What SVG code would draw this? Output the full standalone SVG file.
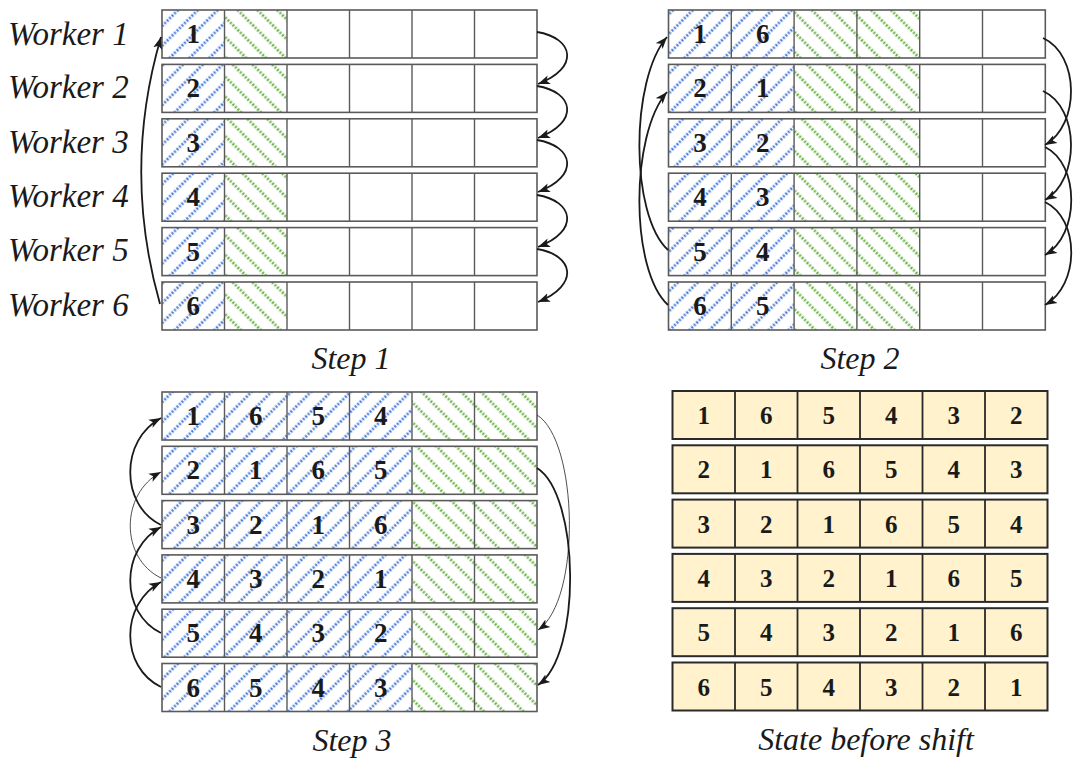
<svg xmlns="http://www.w3.org/2000/svg" width="1080" height="764" viewBox="0 0 1080 764">
<defs>
<pattern id="pb" patternUnits="userSpaceOnUse" width="14" height="14" patternTransform="rotate(45)">
<rect width="14" height="14" fill="#fff"/>
<line x1="7" y1="0" x2="7" y2="14" stroke="#4f7fd8" stroke-width="2.8" stroke-dasharray="2 1.5"/>
</pattern>
<pattern id="pg" patternUnits="userSpaceOnUse" width="14" height="14" patternTransform="rotate(-45)">
<rect width="14" height="14" fill="#fff"/>
<line x1="7" y1="0" x2="7" y2="14" stroke="#6cb34a" stroke-width="2.8" stroke-dasharray="2 1.5"/>
</pattern>
<marker id="ah" markerUnits="userSpaceOnUse" markerWidth="14" markerHeight="10" refX="12" refY="5" orient="auto">
<path d="M0,0.5 L12,5 L0,9.5 L3,5 z" fill="#1a1a1a"/>
</marker>
</defs>
<style>
.b{fill:url(#pb)}
.g{fill:url(#pg)}
.w{fill:#fff}
.y{fill:#fff2cc}
.dv{fill:none;stroke:#5a5a5a;stroke-width:1.4}
.o{fill:none;stroke:#5a5a5a;stroke-width:1.6}
.dv4{fill:none;stroke:#2a2a2a;stroke-width:1.8}
.o4{fill:none;stroke:#2a2a2a;stroke-width:2}
.n{font-family:"Liberation Serif","Times New Roman",serif;font-weight:bold;font-size:27px;fill:#1a1a1a;text-anchor:middle}
.n4{font-family:"Liberation Serif","Times New Roman",serif;font-weight:bold;font-size:25px;fill:#1a1a1a;text-anchor:middle}
.lb{font-family:"Liberation Serif","Times New Roman",serif;font-style:italic;font-size:33px;fill:#1a1a1a}
.cap{font-family:"Liberation Serif","Times New Roman",serif;font-style:italic;font-size:32px;fill:#1a1a1a;text-anchor:middle}
.c{fill:none;stroke:#1a1a1a;stroke-width:1.8;marker-end:url(#ah)}
.ct{fill:none;stroke:#3a3a3a;stroke-width:0.9;marker-end:url(#ah)}
</style>

<g id="labels">
<text class="lb" x="8" y="45">Worker 1</text>
<text class="lb" x="8" y="98">Worker 2</text>
<text class="lb" x="8" y="153">Worker 3</text>
<text class="lb" x="8" y="207">Worker 4</text>
<text class="lb" x="8" y="261">Worker 5</text>
<text class="lb" x="8" y="316">Worker 6</text>
<text class="cap" x="351" y="369">Step 1</text>
<text class="cap" x="860" y="369">Step 2</text>
<text class="cap" x="352" y="751">Step 3</text>
<text class="cap" x="866" y="750">State before shift</text>
</g>

<!-- Panel 1: Step 1 -->
<g id="s1-r1"><rect class="b" x="162" y="10" width="62.5" height="48"/><rect class="g" x="224.5" y="10" width="62.5" height="48"/><rect class="w" x="287" y="10" width="250" height="48"/><path class="dv" d="M224.5,10v48M287,10v48M349.5,10v48M412,10v48M474.5,10v48"/><rect class="o" x="162" y="10" width="375" height="48"/><text class="n" x="193.25" y="43">1</text></g>
<g id="s1-r2"><rect class="b" x="162" y="64.4" width="62.5" height="48"/><rect class="g" x="224.5" y="64.4" width="62.5" height="48"/><rect class="w" x="287" y="64.4" width="250" height="48"/><path class="dv" d="M224.5,64.4v48M287,64.4v48M349.5,64.4v48M412,64.4v48M474.5,64.4v48"/><rect class="o" x="162" y="64.4" width="375" height="48"/><text class="n" x="193.25" y="97.4">2</text></g>
<g id="s1-r3"><rect class="b" x="162" y="118.8" width="62.5" height="48"/><rect class="g" x="224.5" y="118.8" width="62.5" height="48"/><rect class="w" x="287" y="118.8" width="250" height="48"/><path class="dv" d="M224.5,118.8v48M287,118.8v48M349.5,118.8v48M412,118.8v48M474.5,118.8v48"/><rect class="o" x="162" y="118.8" width="375" height="48"/><text class="n" x="193.25" y="151.8">3</text></g>
<g id="s1-r4"><rect class="b" x="162" y="173.2" width="62.5" height="48"/><rect class="g" x="224.5" y="173.2" width="62.5" height="48"/><rect class="w" x="287" y="173.2" width="250" height="48"/><path class="dv" d="M224.5,173.2v48M287,173.2v48M349.5,173.2v48M412,173.2v48M474.5,173.2v48"/><rect class="o" x="162" y="173.2" width="375" height="48"/><text class="n" x="193.25" y="206.2">4</text></g>
<g id="s1-r5"><rect class="b" x="162" y="227.6" width="62.5" height="48"/><rect class="g" x="224.5" y="227.6" width="62.5" height="48"/><rect class="w" x="287" y="227.6" width="250" height="48"/><path class="dv" d="M224.5,227.6v48M287,227.6v48M349.5,227.6v48M412,227.6v48M474.5,227.6v48"/><rect class="o" x="162" y="227.6" width="375" height="48"/><text class="n" x="193.25" y="260.6">5</text></g>
<g id="s1-r6"><rect class="b" x="162" y="282" width="62.5" height="48"/><rect class="g" x="224.5" y="282" width="62.5" height="48"/><rect class="w" x="287" y="282" width="250" height="48"/><path class="dv" d="M224.5,282v48M287,282v48M349.5,282v48M412,282v48M474.5,282v48"/><rect class="o" x="162" y="282" width="375" height="48"/><text class="n" x="193.25" y="315">6</text></g>

<!-- Panel 2: Step 2 -->
<g id="s2-r1"><rect class="b" x="668.5" y="10" width="125.6" height="48"/><rect class="g" x="794.1" y="10" width="125.6" height="48"/><rect class="w" x="919.7" y="10" width="125.6" height="48"/><path class="dv" d="M731.3,10v48M794.1,10v48M856.9,10v48M919.7,10v48M982.5,10v48"/><rect class="o" x="668.5" y="10" width="376.8" height="48"/><text class="n" x="699.9" y="43">1</text><text class="n" x="762.7" y="43">6</text></g>
<g id="s2-r2"><rect class="b" x="668.5" y="64.4" width="125.6" height="48"/><rect class="g" x="794.1" y="64.4" width="125.6" height="48"/><rect class="w" x="919.7" y="64.4" width="125.6" height="48"/><path class="dv" d="M731.3,64.4v48M794.1,64.4v48M856.9,64.4v48M919.7,64.4v48M982.5,64.4v48"/><rect class="o" x="668.5" y="64.4" width="376.8" height="48"/><text class="n" x="699.9" y="97.4">2</text><text class="n" x="762.7" y="97.4">1</text></g>
<g id="s2-r3"><rect class="b" x="668.5" y="118.8" width="125.6" height="48"/><rect class="g" x="794.1" y="118.8" width="125.6" height="48"/><rect class="w" x="919.7" y="118.8" width="125.6" height="48"/><path class="dv" d="M731.3,118.8v48M794.1,118.8v48M856.9,118.8v48M919.7,118.8v48M982.5,118.8v48"/><rect class="o" x="668.5" y="118.8" width="376.8" height="48"/><text class="n" x="699.9" y="151.8">3</text><text class="n" x="762.7" y="151.8">2</text></g>
<g id="s2-r4"><rect class="b" x="668.5" y="173.2" width="125.6" height="48"/><rect class="g" x="794.1" y="173.2" width="125.6" height="48"/><rect class="w" x="919.7" y="173.2" width="125.6" height="48"/><path class="dv" d="M731.3,173.2v48M794.1,173.2v48M856.9,173.2v48M919.7,173.2v48M982.5,173.2v48"/><rect class="o" x="668.5" y="173.2" width="376.8" height="48"/><text class="n" x="699.9" y="206.2">4</text><text class="n" x="762.7" y="206.2">3</text></g>
<g id="s2-r5"><rect class="b" x="668.5" y="227.6" width="125.6" height="48"/><rect class="g" x="794.1" y="227.6" width="125.6" height="48"/><rect class="w" x="919.7" y="227.6" width="125.6" height="48"/><path class="dv" d="M731.3,227.6v48M794.1,227.6v48M856.9,227.6v48M919.7,227.6v48M982.5,227.6v48"/><rect class="o" x="668.5" y="227.6" width="376.8" height="48"/><text class="n" x="699.9" y="260.6">5</text><text class="n" x="762.7" y="260.6">4</text></g>
<g id="s2-r6"><rect class="b" x="668.5" y="282" width="125.6" height="48"/><rect class="g" x="794.1" y="282" width="125.6" height="48"/><rect class="w" x="919.7" y="282" width="125.6" height="48"/><path class="dv" d="M731.3,282v48M794.1,282v48M856.9,282v48M919.7,282v48M982.5,282v48"/><rect class="o" x="668.5" y="282" width="376.8" height="48"/><text class="n" x="699.9" y="315">6</text><text class="n" x="762.7" y="315">5</text></g>

<!-- Panel 3: Step 3 -->
<g id="s3-r1"><rect class="b" x="162" y="392" width="250" height="48"/><rect class="g" x="412" y="392" width="125" height="48"/><path class="dv" d="M224.5,392v48M287,392v48M349.5,392v48M412,392v48M474.5,392v48"/><rect class="o" x="162" y="392" width="375" height="48"/><text class="n" x="193.25" y="425">1</text><text class="n" x="255.75" y="425">6</text><text class="n" x="318.25" y="425">5</text><text class="n" x="380.75" y="425">4</text></g>
<g id="s3-r2"><rect class="b" x="162" y="446.3" width="250" height="48"/><rect class="g" x="412" y="446.3" width="125" height="48"/><path class="dv" d="M224.5,446.3v48M287,446.3v48M349.5,446.3v48M412,446.3v48M474.5,446.3v48"/><rect class="o" x="162" y="446.3" width="375" height="48"/><text class="n" x="193.25" y="479.3">2</text><text class="n" x="255.75" y="479.3">1</text><text class="n" x="318.25" y="479.3">6</text><text class="n" x="380.75" y="479.3">5</text></g>
<g id="s3-r3"><rect class="b" x="162" y="500.6" width="250" height="48"/><rect class="g" x="412" y="500.6" width="125" height="48"/><path class="dv" d="M224.5,500.6v48M287,500.6v48M349.5,500.6v48M412,500.6v48M474.5,500.6v48"/><rect class="o" x="162" y="500.6" width="375" height="48"/><text class="n" x="193.25" y="533.6">3</text><text class="n" x="255.75" y="533.6">2</text><text class="n" x="318.25" y="533.6">1</text><text class="n" x="380.75" y="533.6">6</text></g>
<g id="s3-r4"><rect class="b" x="162" y="554.9" width="250" height="48"/><rect class="g" x="412" y="554.9" width="125" height="48"/><path class="dv" d="M224.5,554.9v48M287,554.9v48M349.5,554.9v48M412,554.9v48M474.5,554.9v48"/><rect class="o" x="162" y="554.9" width="375" height="48"/><text class="n" x="193.25" y="587.9">4</text><text class="n" x="255.75" y="587.9">3</text><text class="n" x="318.25" y="587.9">2</text><text class="n" x="380.75" y="587.9">1</text></g>
<g id="s3-r5"><rect class="b" x="162" y="609.2" width="250" height="48"/><rect class="g" x="412" y="609.2" width="125" height="48"/><path class="dv" d="M224.5,609.2v48M287,609.2v48M349.5,609.2v48M412,609.2v48M474.5,609.2v48"/><rect class="o" x="162" y="609.2" width="375" height="48"/><text class="n" x="193.25" y="642.2">5</text><text class="n" x="255.75" y="642.2">4</text><text class="n" x="318.25" y="642.2">3</text><text class="n" x="380.75" y="642.2">2</text></g>
<g id="s3-r6"><rect class="b" x="162" y="663.5" width="250" height="48"/><rect class="g" x="412" y="663.5" width="125" height="48"/><path class="dv" d="M224.5,663.5v48M287,663.5v48M349.5,663.5v48M412,663.5v48M474.5,663.5v48"/><rect class="o" x="162" y="663.5" width="375" height="48"/><text class="n" x="193.25" y="696.5">6</text><text class="n" x="255.75" y="696.5">5</text><text class="n" x="318.25" y="696.5">4</text><text class="n" x="380.75" y="696.5">3</text></g>

<!-- Panel 4: State before shift -->
<g id="sb-r1"><rect class="y" x="672.5" y="391" width="375" height="48"/><path class="dv4" d="M735,391v48M797.5,391v48M860,391v48M922.5,391v48M985,391v48"/><rect class="o4" x="672.5" y="391" width="375" height="48"/><text class="n4" x="703.75" y="424">1</text><text class="n4" x="766.25" y="424">6</text><text class="n4" x="828.75" y="424">5</text><text class="n4" x="891.25" y="424">4</text><text class="n4" x="953.75" y="424">3</text><text class="n4" x="1016.25" y="424">2</text></g>
<g id="sb-r2"><rect class="y" x="672.5" y="445.3" width="375" height="48"/><path class="dv4" d="M735,445.3v48M797.5,445.3v48M860,445.3v48M922.5,445.3v48M985,445.3v48"/><rect class="o4" x="672.5" y="445.3" width="375" height="48"/><text class="n4" x="703.75" y="478.3">2</text><text class="n4" x="766.25" y="478.3">1</text><text class="n4" x="828.75" y="478.3">6</text><text class="n4" x="891.25" y="478.3">5</text><text class="n4" x="953.75" y="478.3">4</text><text class="n4" x="1016.25" y="478.3">3</text></g>
<g id="sb-r3"><rect class="y" x="672.5" y="499.6" width="375" height="48"/><path class="dv4" d="M735,499.6v48M797.5,499.6v48M860,499.6v48M922.5,499.6v48M985,499.6v48"/><rect class="o4" x="672.5" y="499.6" width="375" height="48"/><text class="n4" x="703.75" y="532.6">3</text><text class="n4" x="766.25" y="532.6">2</text><text class="n4" x="828.75" y="532.6">1</text><text class="n4" x="891.25" y="532.6">6</text><text class="n4" x="953.75" y="532.6">5</text><text class="n4" x="1016.25" y="532.6">4</text></g>
<g id="sb-r4"><rect class="y" x="672.5" y="553.9" width="375" height="48"/><path class="dv4" d="M735,553.9v48M797.5,553.9v48M860,553.9v48M922.5,553.9v48M985,553.9v48"/><rect class="o4" x="672.5" y="553.9" width="375" height="48"/><text class="n4" x="703.75" y="586.9">4</text><text class="n4" x="766.25" y="586.9">3</text><text class="n4" x="828.75" y="586.9">2</text><text class="n4" x="891.25" y="586.9">1</text><text class="n4" x="953.75" y="586.9">6</text><text class="n4" x="1016.25" y="586.9">5</text></g>
<g id="sb-r5"><rect class="y" x="672.5" y="608.2" width="375" height="48"/><path class="dv4" d="M735,608.2v48M797.5,608.2v48M860,608.2v48M922.5,608.2v48M985,608.2v48"/><rect class="o4" x="672.5" y="608.2" width="375" height="48"/><text class="n4" x="703.75" y="641.2">5</text><text class="n4" x="766.25" y="641.2">4</text><text class="n4" x="828.75" y="641.2">3</text><text class="n4" x="891.25" y="641.2">2</text><text class="n4" x="953.75" y="641.2">1</text><text class="n4" x="1016.25" y="641.2">6</text></g>
<g id="sb-r6"><rect class="y" x="672.5" y="662.5" width="375" height="48"/><path class="dv4" d="M735,662.5v48M797.5,662.5v48M860,662.5v48M922.5,662.5v48M985,662.5v48"/><rect class="o4" x="672.5" y="662.5" width="375" height="48"/><text class="n4" x="703.75" y="695.5">6</text><text class="n4" x="766.25" y="695.5">5</text><text class="n4" x="828.75" y="695.5">4</text><text class="n4" x="891.25" y="695.5">3</text><text class="n4" x="953.75" y="695.5">2</text><text class="n4" x="1016.25" y="695.5">1</text></g>

<g id="connectors">
<!-- Step 1 -->
<path class="c" d="M160,304 Q122,170 161,37"/>
<path class="c" d="M537,32 C574,38 580,68 538,84"/>
<path class="c" d="M537,86 C574,92 580,122 538,138"/>
<path class="c" d="M537,140 C574,146 580,176 538,192"/>
<path class="c" d="M537,195 C574,201 580,231 538,247"/>
<path class="c" d="M537,249 C574,255 580,285 538,302"/>
<!-- Step 2 -->
<path class="c" d="M668,250 C630,215 630,80 667,37"/>
<path class="c" d="M668,305 C630,270 630,135 667,92"/>
<path class="c" d="M1043,38 C1080,55 1080,125 1045,145"/>
<path class="c" d="M1043,91 C1080,108 1080,180 1045,200"/>
<path class="c" d="M1045,147 C1080,164 1080,235 1045,255"/>
<path class="c" d="M1045,202 C1080,219 1080,285 1045,305"/>
<!-- Step 3 -->
<path class="c" d="M161,525 C120,505 120,440 161,418"/>
<path class="ct" d="M161,578 C120,558 120,494 161,472"/>
<path class="c" d="M161,633 C120,613 120,549 161,527"/>
<path class="c" d="M161,687 C120,667 120,604 161,582"/>
<path class="ct" d="M537,415 C578,440 582,600 538,630"/>
<path class="c" d="M537,468 C580,495 582,655 538,685"/>
</g>
</svg>
